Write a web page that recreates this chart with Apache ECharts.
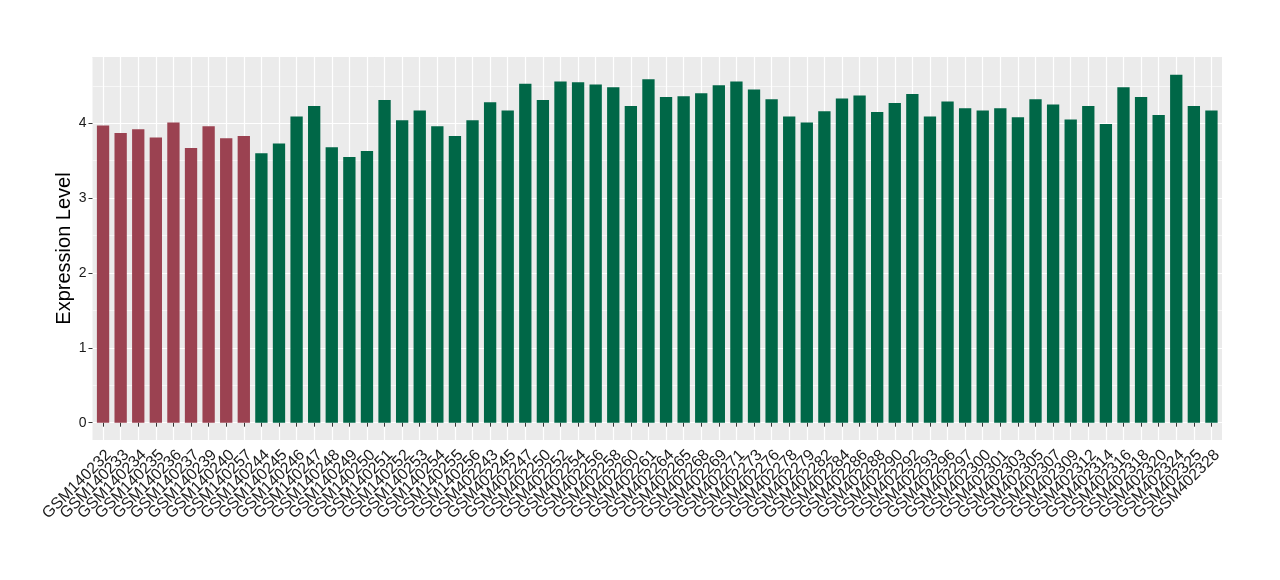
<!DOCTYPE html>
<html><head><meta charset="utf-8">
<script src="https://cdn.jsdelivr.net/npm/echarts@6/dist/echarts.min.js"></script>
<style>html,body{margin:0;padding:0;background:#fff}#c{width:1280px;height:580px}</style>
</head><body><div id="c"></div>
<script>
const categories = [
  'GSM140232','GSM140233','GSM140234','GSM140235','GSM140236','GSM140237','GSM140239','GSM140240','GSM140257',
  'GSM140244','GSM140245','GSM140246','GSM140247','GSM140248','GSM140249','GSM140250','GSM140251','GSM140252',
  'GSM140253','GSM140254','GSM140255','GSM140256',
  'GSM402243','GSM402245','GSM402247','GSM402250','GSM402252','GSM402254','GSM402256','GSM402258','GSM402260',
  'GSM402261','GSM402264','GSM402265','GSM402268','GSM402269','GSM402271','GSM402273','GSM402276','GSM402278',
  'GSM402279','GSM402282','GSM402284','GSM402286','GSM402288','GSM402290','GSM402292','GSM402293','GSM402296',
  'GSM402297','GSM402300','GSM402301','GSM402303','GSM402305','GSM402307','GSM402309','GSM402312','GSM402314',
  'GSM402316','GSM402318','GSM402320','GSM402324','GSM402325','GSM402328'
];
const values = [
  3.97, 3.87, 3.92, 3.81, 4.01, 3.67, 3.96, 3.80, 3.83,
  3.60, 3.73, 4.09, 4.23, 3.68, 3.55, 3.63, 4.31, 4.04, 4.17, 3.96, 3.83, 4.04,
  4.28, 4.17, 4.53, 4.31, 4.56, 4.55, 4.52, 4.48, 4.23, 4.59, 4.35,
  4.36, 4.40, 4.51, 4.56, 4.45, 4.32, 4.09, 4.01, 4.16, 4.33, 4.37, 4.15, 4.27, 4.39, 4.09, 4.29,
  4.20, 4.17, 4.20, 4.08, 4.32, 4.25, 4.05, 4.23, 3.99, 4.48, 4.35, 4.11, 4.65, 4.23, 4.17
];
const groups = [
  'A','A','A','A','A','A','A','A','A',
  'B','B','B','B','B','B','B','B','B','B','B','B','B',
  'B','B','B','B','B','B','B','B','B','B','B',
  'B','B','B','B','B','B','B','B','B','B','B','B','B','B','B','B',
  'B','B','B','B','B','B','B','B','B','B','B','B','B','B','B'
];
const groupColors = { A: '#9B4251', B: '#006747' };
const yTicks = [0, 1, 2, 3, 4];
const yTitle = 'Expression Level';

const BG = '#EBEBEB';
const FONT = 'Liberation Sans';
const panelL = 92.5, panelR = 1222, panelT = 57, panelB = 440, zeroY = 422.7;
const unit = (panelR - panelL) / (categories.length + 0.2);
const yMax = (zeroY - panelT) / 74.85;

const chart = echarts.init(document.getElementById('c'), null, { renderer: 'canvas' });
const majorColors = []; for (let i = 0; i < 6; i++) majorColors.push(i < 5 ? '#FFFFFF' : BG);
const minorColors = []; for (let i = 0; i < 11; i++) minorColors.push(i < 10 ? '#FFFFFF' : BG);

chart.setOption({
  animation: false,
  textStyle: { fontFamily: FONT },
  grid: [
    { left: panelL, top: panelT, width: panelR - panelL, height: panelB - panelT, show: true, backgroundColor: BG, borderWidth: 0, outerBoundsMode: 'none' },
    { left: panelL, top: panelT, width: panelR - panelL, height: zeroY - panelT, outerBoundsMode: 'none' },
    { left: panelL + 0.6 * unit, top: panelT, width: (categories.length - 1) * unit, height: panelB - panelT, outerBoundsMode: 'none' },
    { left: panelL + 0.1 * unit, top: panelT, width: categories.length * unit, height: zeroY - panelT, outerBoundsMode: 'none' }
  ],
  xAxis: [
    { gridIndex: 0, type: 'value', show: false },
    { gridIndex: 1, type: 'value', show: false },
    { gridIndex: 2, type: 'value', min: 0, max: categories.length - 1, interval: 1,
      axisLine: { show: false }, axisTick: { show: false }, axisLabel: { show: false },
      splitLine: { show: true, lineStyle: { color: '#FFFFFF', width: 1.2 } } },
    { gridIndex: 3, type: 'category', data: categories, offset: panelB - zeroY,
      axisLine: { show: false },
      axisTick: { show: true, alignWithLabel: true, interval: 0, length: 4, lineStyle: { color: '#333333', width: 1 } },
      splitLine: { show: false },
      axisLabel: { show: true, interval: 0, rotate: 45, margin: 7, fontSize: 16, color: '#1A1A1A', fontFamily: FONT,
        align: 'right', verticalAlign: 'top' } }
  ],
  yAxis: [
    { gridIndex: 0, type: 'value', show: true, min: 0, max: 1,
      axisLine: { show: false }, axisTick: { show: false }, axisLabel: { show: false }, splitLine: { show: false },
      name: yTitle, nameLocation: 'middle', nameGap: 18,
      nameTextStyle: { fontSize: 20, color: '#000000', fontFamily: FONT } },
    { gridIndex: 1, type: 'value', min: 0, max: yMax, interval: 1,
      axisLine: { show: false },
      axisTick: { show: true, length: 4, customValues: yTicks, lineStyle: { color: '#333333' } },
      axisLabel: { show: true, customValues: yTicks, margin: 6, fontSize: 14, color: '#1A1A1A', fontFamily: FONT },
      splitLine: { show: true, lineStyle: { color: majorColors, width: 1.2 } } },
    { gridIndex: 1, type: 'value', min: 0, max: yMax, interval: 0.5,
      axisLine: { show: false }, axisTick: { show: false }, axisLabel: { show: false },
      splitLine: { show: true, lineStyle: { color: minorColors, width: 0.6 } } },
    { gridIndex: 2, type: 'value', show: false },
    { gridIndex: 3, type: 'value', min: 0, max: yMax, show: false }
  ],
  series: [{
    type: 'bar', xAxisIndex: 3, yAxisIndex: 4, barWidth: '70%',
    data: values.map((v, i) => ({ value: v, itemStyle: { color: groupColors[groups[i]] } })),
    z: 5
  }]
});
</script></body></html>
